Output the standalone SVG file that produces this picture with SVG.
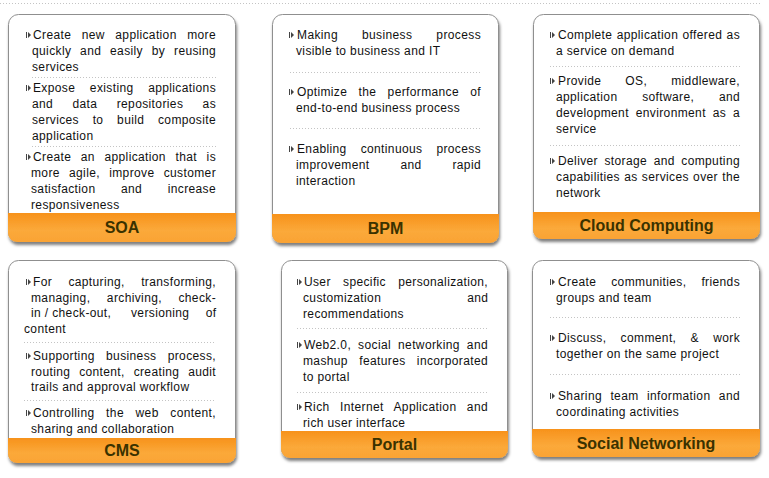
<svg xmlns="http://www.w3.org/2000/svg" xmlns:xlink="http://www.w3.org/1999/xlink" width="769" height="478" viewBox="0 0 769 478">
<style>
.body{fill:#fff;stroke:#8f8f8f;stroke-width:1}
.band{fill:url(#bandGrad)}
.t{font-family:"Liberation Sans",Arial,sans-serif;font-size:12px;letter-spacing:0.37px;fill:#111}
.ttl{font-family:"Liberation Sans",Arial,sans-serif;font-size:16px;font-weight:bold;fill:#3a3200;text-anchor:middle}
.sep{stroke:#c4c4c4;stroke-width:1;stroke-dasharray:1 2;fill:none}
.bul{fill:#444}
</style>
<defs>
<linearGradient id="bandGrad" x1="0" y1="0" x2="0" y2="1">
<stop offset="0" stop-color="#f7921b"/>
<stop offset="0.6" stop-color="#fba93a"/>
<stop offset="1" stop-color="#faa334"/>
</linearGradient>
<filter id="shadow" x="-5%" y="-5%" width="115%" height="115%">
<feDropShadow dx="1" dy="3" stdDeviation="1.6" flood-color="#000" flood-opacity="0.5"/>
</filter>
<g id="bullet"><rect x="0" y="0" width="1" height="6"/><path d="M2,0 L5,3 L2,6 Z"/></g>
</defs>
<rect x="0" y="0" width="769" height="478" fill="#fff"/>
<line class="sep" x1="0" y1="3.5" x2="760" y2="3.5"/>

<g id="soa">
<g filter="url(#shadow)">
<path class="body" d="M8.5,24.5 A10,10 0 0 1 18.5,14.5 H225.5 A10,10 0 0 1 235.5,24.5 V232.5 A9,9 0 0 1 226.5,241.5 H17.5 A9,9 0 0 1 8.5,232.5 Z"/>
<path class="band" d="M8,213 H236 V233 A9,9 0 0 1 227,242 H17 A9,9 0 0 1 8,233 Z"/>
</g>
<use href="#bullet" class="bul" x="26" y="32"/>
<use href="#bullet" class="bul" x="26" y="85"/>
<use href="#bullet" class="bul" x="26" y="154"/>
<line class="sep" x1="32" y1="77.5" x2="216" y2="77.5"/>
<line class="sep" x1="32" y1="146.5" x2="216" y2="146.5"/>
<text class="t" x="33" y="39" word-spacing="6.8" textLength="183" lengthAdjust="spacing">Create new application more</text>
<text class="t" x="32" y="55" word-spacing="5.1" textLength="184" lengthAdjust="spacing">quickly and easily by reusing</text>
<text class="t" x="32" y="71">services</text>
<text class="t" x="33" y="92" word-spacing="10.9" textLength="183" lengthAdjust="spacing">Expose existing applications</text>
<text class="t" x="32" y="108" word-spacing="15.6" textLength="184" lengthAdjust="spacing">and data repositories as</text>
<text class="t" x="32" y="124" word-spacing="10" textLength="184" lengthAdjust="spacing">services to build composite</text>
<text class="t" x="32" y="140">application</text>
<text class="t" x="33" y="161" word-spacing="5.9" textLength="183" lengthAdjust="spacing">Create an application that is</text>
<text class="t" x="31" y="177" word-spacing="5.5" textLength="185" lengthAdjust="spacing">more agile, improve customer</text>
<text class="t" x="31" y="193" word-spacing="21.9" textLength="185" lengthAdjust="spacing">satisfaction and increase</text>
<text class="t" x="31" y="209">responsiveness</text>
<text class="ttl" x="122" y="233">SOA</text>
</g>

<g id="bpm">
<g filter="url(#shadow)">
<path class="body" d="M272.5,24.5 A10,10 0 0 1 282.5,14.5 H488.5 A10,10 0 0 1 498.5,24.5 V233.5 A9,9 0 0 1 489.5,242.5 H281.5 A9,9 0 0 1 272.5,233.5 Z"/>
<path class="band" d="M272,214 H499 V234 A9,9 0 0 1 490,243 H281 A9,9 0 0 1 272,234 Z"/>
</g>
<use href="#bullet" class="bul" x="289" y="32"/>
<use href="#bullet" class="bul" x="289" y="89"/>
<use href="#bullet" class="bul" x="289" y="146"/>
<line class="sep" x1="290" y1="72.5" x2="481" y2="72.5"/>
<line class="sep" x1="290" y1="128.5" x2="481" y2="128.5"/>
<text class="t" x="297" y="39" word-spacing="20.3" textLength="184" lengthAdjust="spacing">Making business process</text>
<text class="t" x="296" y="55">visible to business and IT</text>
<text class="t" x="297" y="96" word-spacing="7.6" textLength="184" lengthAdjust="spacing">Optimize the performance of</text>
<text class="t" x="296" y="112">end-to-end business process</text>
<text class="t" x="297" y="153" word-spacing="10.3" textLength="184" lengthAdjust="spacing">Enabling continuous process</text>
<text class="t" x="296" y="169" word-spacing="27.2" textLength="185" lengthAdjust="spacing">improvement and rapid</text>
<text class="t" x="296" y="185">interaction</text>
<text class="ttl" x="385.5" y="234">BPM</text>
</g>

<g id="cloud-computing">
<g filter="url(#shadow)">
<path class="body" d="M533.5,24.5 A10,10 0 0 1 543.5,14.5 H749.5 A10,10 0 0 1 759.5,24.5 V229.5 A9,9 0 0 1 750.5,238.5 H542.5 A9,9 0 0 1 533.5,229.5 Z"/>
<path class="band" d="M533,212 H760 V230 A9,9 0 0 1 751,239 H542 A9,9 0 0 1 533,230 Z"/>
</g>
<use href="#bullet" class="bul" x="550" y="32"/>
<use href="#bullet" class="bul" x="550" y="78"/>
<use href="#bullet" class="bul" x="550" y="158"/>
<line class="sep" x1="550" y1="66.5" x2="740" y2="66.5"/>
<line class="sep" x1="550" y1="145.5" x2="740" y2="145.5"/>
<text class="t" x="558" y="39" word-spacing="0.6" textLength="182" lengthAdjust="spacing">Complete application offered as</text>
<text class="t" x="556" y="55">a service on demand</text>
<text class="t" x="558" y="85" word-spacing="20.3" textLength="182" lengthAdjust="spacing">Provide OS, middleware,</text>
<text class="t" x="556" y="101" word-spacing="21" textLength="184" lengthAdjust="spacing">application software, and</text>
<text class="t" x="556" y="117" word-spacing="3.1" textLength="184" lengthAdjust="spacing">development environment as a</text>
<text class="t" x="556" y="133">service</text>
<text class="t" x="558" y="165" word-spacing="2.8" textLength="182" lengthAdjust="spacing">Deliver storage and computing</text>
<text class="t" x="556" y="181" word-spacing="0.5" textLength="184" lengthAdjust="spacing">capabilities as services over the</text>
<text class="t" x="556" y="197">network</text>
<text class="ttl" x="646.5" y="231">Cloud Computing</text>
</g>

<g id="cms">
<g filter="url(#shadow)">
<path class="body" d="M8.5,270.5 A10,10 0 0 1 18.5,260.5 H225.5 A10,10 0 0 1 235.5,270.5 V453.5 A9,9 0 0 1 226.5,462.5 H17.5 A9,9 0 0 1 8.5,453.5 Z"/>
<path class="band" d="M8,438 H236 V454 A9,9 0 0 1 227,463 H17 A9,9 0 0 1 8,454 Z"/>
</g>
<use href="#bullet" class="bul" x="26" y="279"/>
<use href="#bullet" class="bul" x="26" y="353"/>
<use href="#bullet" class="bul" x="26" y="410"/>
<line class="sep" x1="24" y1="342.5" x2="216" y2="342.5"/>
<line class="sep" x1="24" y1="400.5" x2="216" y2="400.5"/>
<text class="t" x="33" y="286" word-spacing="12.6" textLength="183" lengthAdjust="spacing">For capturing, transforming,</text>
<text class="t" x="31" y="302" word-spacing="12.8" textLength="185" lengthAdjust="spacing">managing, archiving, check-</text>
<text class="t" y="317"><tspan x="31">in / check-out,</tspan><tspan x="131">versioning</tspan><tspan x="216.4" text-anchor="end">of</tspan></text>
<text class="t" x="24" y="333">content</text>
<text class="t" x="33" y="360" word-spacing="7.6" textLength="183" lengthAdjust="spacing">Supporting business process,</text>
<text class="t" x="31" y="376" word-spacing="5.2" textLength="185" lengthAdjust="spacing">routing content, creating audit</text>
<text class="t" x="31" y="391">trails and approval workflow</text>
<text class="t" x="33" y="417" word-spacing="7.9" textLength="183" lengthAdjust="spacing">Controlling the web content,</text>
<text class="t" x="31" y="433">sharing and collaboration</text>
<text class="ttl" x="122" y="456">CMS</text>
</g>

<g id="portal">
<g filter="url(#shadow)">
<path class="body" d="M281.5,270.5 A10,10 0 0 1 291.5,260.5 H497.5 A10,10 0 0 1 507.5,270.5 V448.5 A9,9 0 0 1 498.5,457.5 H290.5 A9,9 0 0 1 281.5,448.5 Z"/>
<path class="band" d="M281,431 H508 V449 A9,9 0 0 1 499,458 H290 A9,9 0 0 1 281,449 Z"/>
</g>
<use href="#bullet" class="bul" x="297" y="279"/>
<use href="#bullet" class="bul" x="297" y="342"/>
<use href="#bullet" class="bul" x="297" y="404"/>
<line class="sep" x1="297" y1="328.5" x2="488" y2="328.5"/>
<line class="sep" x1="297" y1="392.5" x2="488" y2="392.5"/>
<text class="t" x="304" y="286" word-spacing="8.7" textLength="184" lengthAdjust="spacing">User specific personalization,</text>
<text class="t" y="302"><tspan x="303">customization</tspan><tspan x="488.4" text-anchor="end">and</tspan></text>
<text class="t" x="303" y="318">recommendations</text>
<text class="t" x="304" y="349" word-spacing="3.3" textLength="184" lengthAdjust="spacing">Web2.0, social networking and</text>
<text class="t" x="303" y="365" word-spacing="7.6" textLength="185" lengthAdjust="spacing">mashup features incorporated</text>
<text class="t" x="303" y="381">to portal</text>
<text class="t" x="304" y="411" word-spacing="6.6" textLength="184" lengthAdjust="spacing">Rich Internet Application and</text>
<text class="t" x="303" y="427">rich user interface</text>
<text class="ttl" x="394.5" y="450">Portal</text>
</g>

<g id="social-networking">
<g filter="url(#shadow)">
<path class="body" d="M532.5,270.5 A10,10 0 0 1 542.5,260.5 H749.5 A10,10 0 0 1 759.5,270.5 V447.5 A9,9 0 0 1 750.5,456.5 H541.5 A9,9 0 0 1 532.5,447.5 Z"/>
<path class="band" d="M532,429 H760 V448 A9,9 0 0 1 751,457 H541 A9,9 0 0 1 532,448 Z"/>
</g>
<use href="#bullet" class="bul" x="550" y="279"/>
<use href="#bullet" class="bul" x="550" y="335"/>
<use href="#bullet" class="bul" x="550" y="393"/>
<line class="sep" x1="550" y1="317.5" x2="740" y2="317.5"/>
<line class="sep" x1="550" y1="374.5" x2="740" y2="374.5"/>
<text class="t" x="558" y="286" word-spacing="11.3" textLength="182" lengthAdjust="spacing">Create communities, friends</text>
<text class="t" x="556" y="302">groups and team</text>
<text class="t" x="558" y="342" word-spacing="10.5" textLength="182" lengthAdjust="spacing">Discuss, comment, &amp; work</text>
<text class="t" x="556" y="358">together on the same project</text>
<text class="t" x="558" y="400" word-spacing="4.7" textLength="182" lengthAdjust="spacing">Sharing team information and</text>
<text class="t" x="556" y="416">coordinating activities</text>
<text class="ttl" x="646" y="449">Social Networking</text>
</g>
</svg>
